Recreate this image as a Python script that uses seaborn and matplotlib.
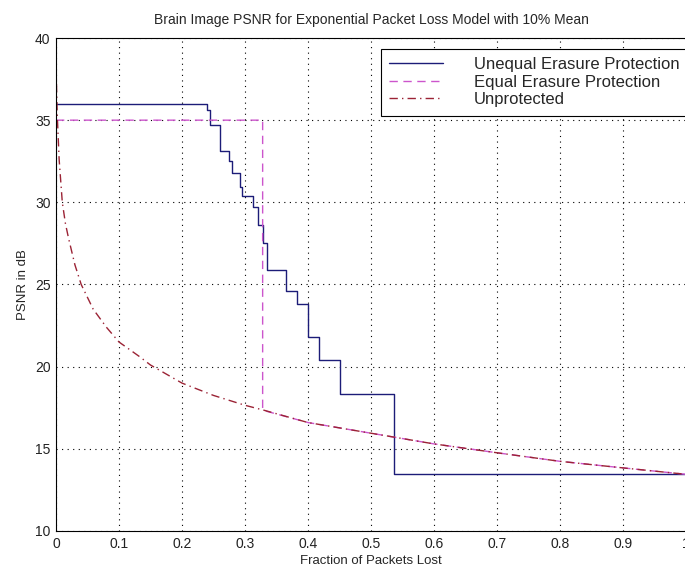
import pandas as pd
import matplotlib
matplotlib.use("Agg")
import matplotlib.pyplot as plt
import seaborn as sns

# --- data ---
# Unequal erasure protection: staircase (level holds until next breakpoint)
uep_x = [0.0, 0.239, 0.244, 0.261, 0.275, 0.280, 0.292, 0.296, 0.312, 0.320,
         0.328, 0.335, 0.365, 0.382, 0.400, 0.4175, 0.451, 0.537, 1.0]
uep_y = [36.0, 35.6, 34.7, 33.15, 32.5, 31.8, 30.95, 30.4, 29.7, 28.65,
         27.5, 25.9, 24.6, 23.8, 21.8, 20.4, 18.35, 13.45, 13.45]

# Equal erasure protection: flat, then drops onto the unprotected curve
eep_x = [0.0, 0.328, 0.328, 0.4, 0.5, 0.6, 0.7, 0.8, 0.9, 1.0]
eep_y = [35.0, 35.0, 17.35, 16.6, 15.95, 15.3, 14.76, 14.24, 13.84, 13.45]

# Unprotected
unp_x = [0.0, 0.002, 0.005, 0.01, 0.015, 0.02, 0.03, 0.04, 0.059, 0.08, 0.1,
         0.133, 0.15, 0.2, 0.25, 0.3, 0.33, 0.4, 0.5, 0.6, 0.7, 0.8, 0.9, 1.0]
unp_y = [38.3, 35.3, 32.6, 30.0, 28.7, 27.8, 26.2, 25.0, 23.5, 22.4, 21.5,
         20.6, 20.1, 19.0, 18.25, 17.65, 17.35, 16.6, 15.95, 15.3, 14.76, 14.24,
         13.84, 13.45]

labels = ["Unequal Erasure Protection", "Equal Erasure Protection", "Unprotected"]
x_ticks = [0, 0.1, 0.2, 0.3, 0.4, 0.5, 0.6, 0.7, 0.8, 0.9, 1.0]
x_ticklabels = ["0", "0.1", "0.2", "0.3", "0.4", "0.5", "0.6", "0.7", "0.8", "0.9", "1"]
y_ticks = [10, 15, 20, 25, 30, 35, 40]

sns.set_style("white")
plt.rcParams["font.family"] = ["Liberation Sans", "DejaVu Sans"]

fig = plt.figure(figsize=(6.85, 5.68), dpi=100)
ax = fig.add_axes([56 / 685, 37 / 568, 630 / 685, 493 / 568])

uep = pd.DataFrame({"x": uep_x, "y": uep_y})
eep = pd.DataFrame({"x": eep_x, "y": eep_y})
unp = pd.DataFrame({"x": unp_x, "y": unp_y})

sns.lineplot(data=uep, x="x", y="y", ax=ax, sort=False, estimator=None,
             drawstyle="steps-post", color="#1c1c78", linewidth=1.0, label=labels[0])
sns.lineplot(data=eep, x="x", y="y", ax=ax, sort=False, estimator=None,
             color="#cc55cc", linewidth=1.0, linestyle=(0, (6, 4)), label=labels[1])
sns.lineplot(data=unp, x="x", y="y", ax=ax, sort=False, estimator=None,
             color="#9b2335", linewidth=1.0, linestyle=(0, (6, 3, 1, 3)), label=labels[2])

ax.set_xlim(0, 1)
ax.set_ylim(10, 40)
ax.set_xticks(x_ticks)
ax.set_xticklabels(x_ticklabels)
ax.set_yticks(y_ticks)
ax.tick_params(direction="in", length=3, labelsize=10, colors="#222222", pad=4)
ax.grid(True, color="black", linestyle=(0, (1, 4)), linewidth=0.8)
for s in ax.spines.values():
    s.set_color("black")
    s.set_linewidth(0.8)

ax.set_xlabel("Fraction of Packets Lost", fontsize=9.5, labelpad=3)
ax.set_ylabel("PSNR in dB", fontsize=9.5, labelpad=4)
ax.set_title("Brain Image PSNR for Exponential Packet Loss Model with 10% Mean",
             fontsize=10, pad=10)

leg = ax.legend(loc="upper left", bbox_to_anchor=(381 / 685, 1 - 49 / 568),
                bbox_transform=fig.transFigure, borderaxespad=0, fontsize=12,
                labelspacing=0.15, handlelength=3.2, handletextpad=1.85,
                borderpad=0.5, fancybox=False, framealpha=1, edgecolor="black")
leg.get_frame().set_linewidth(0.8)

fig.savefig("out.png", dpi=100)
